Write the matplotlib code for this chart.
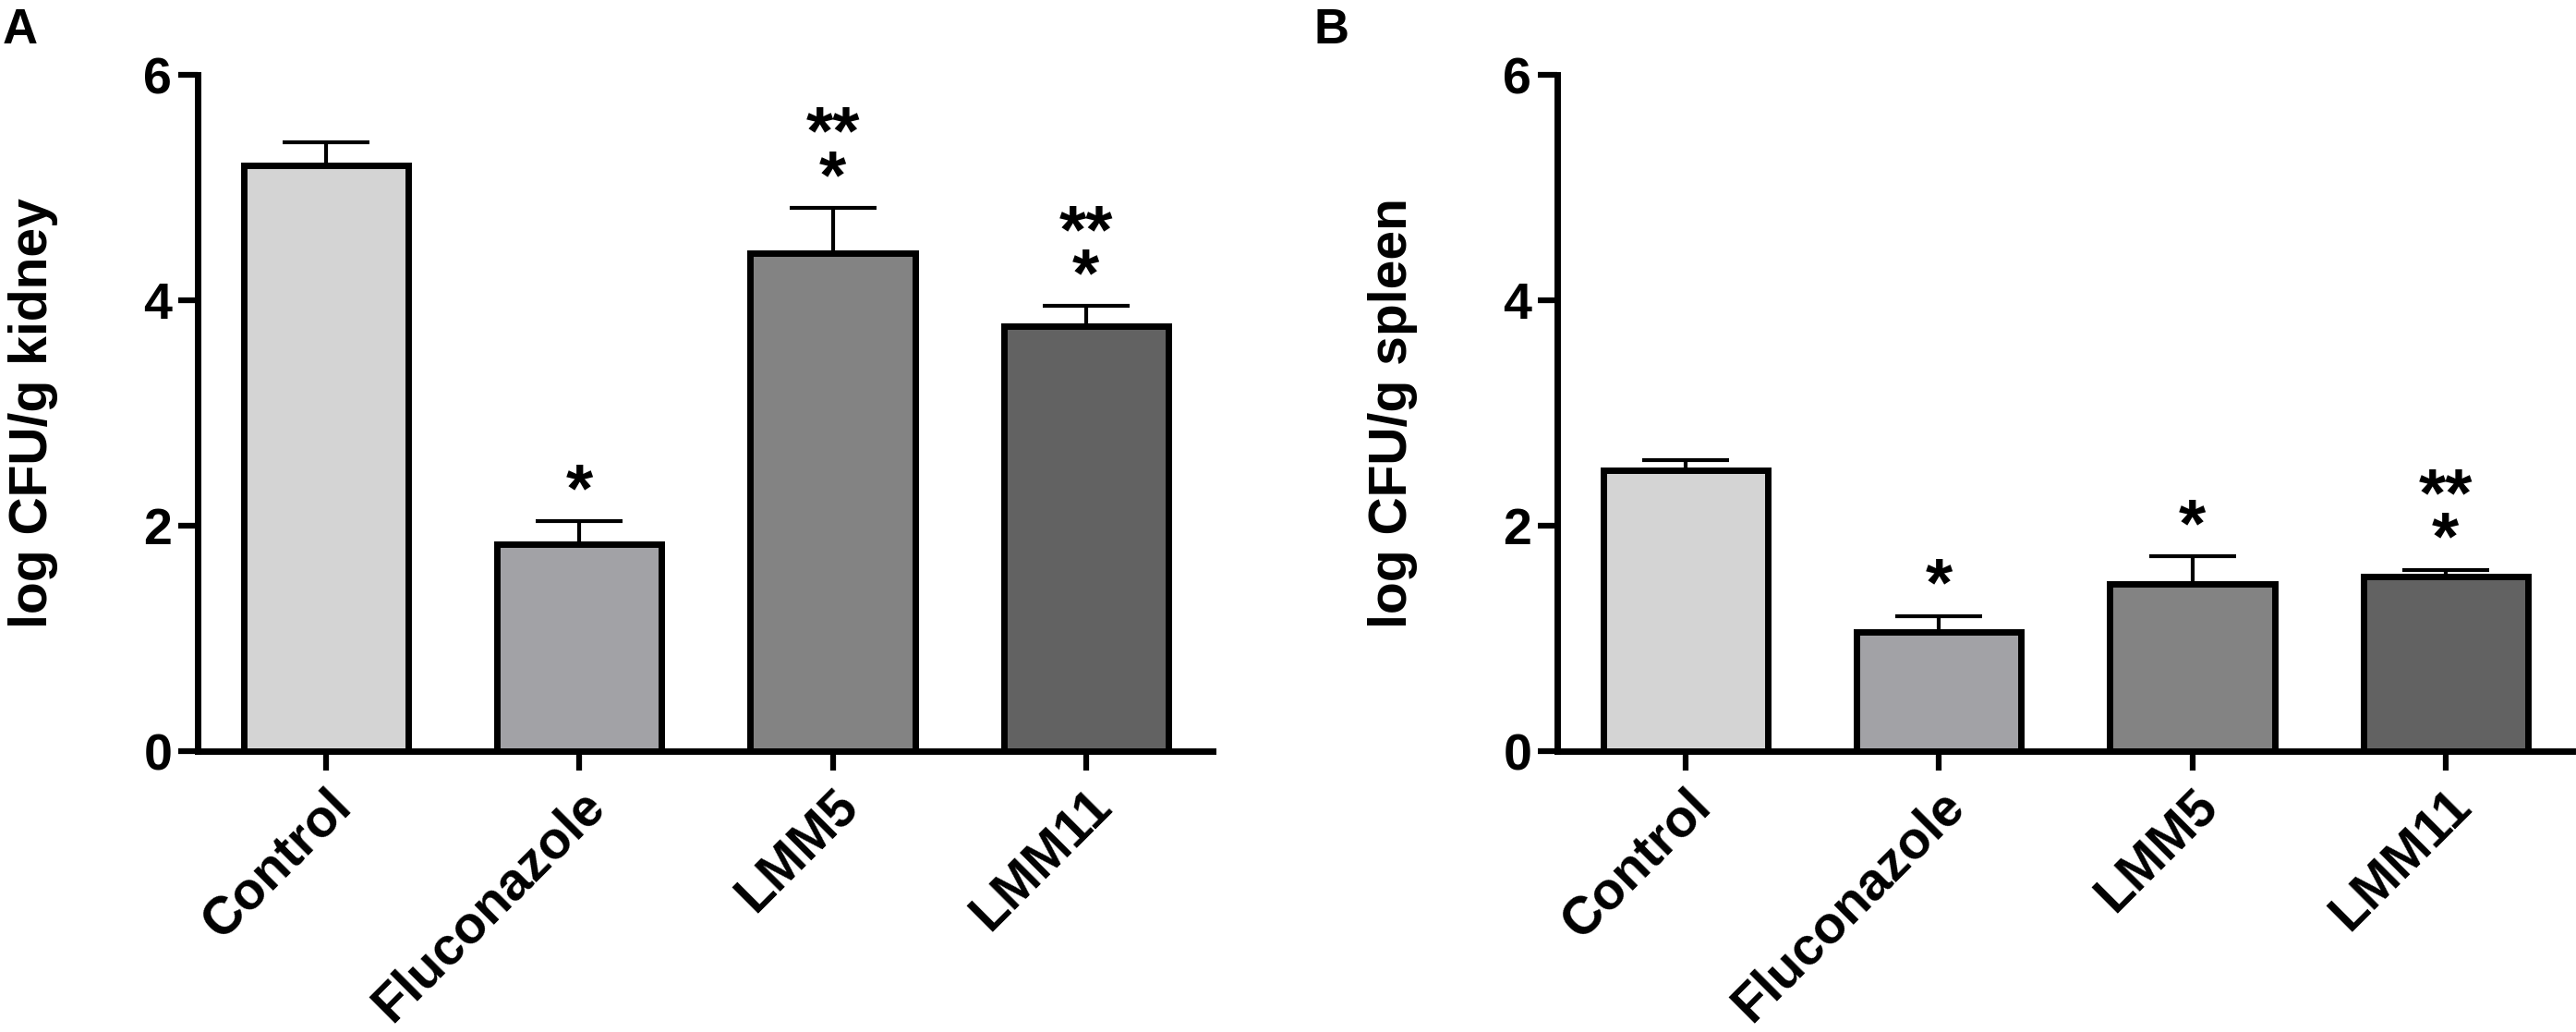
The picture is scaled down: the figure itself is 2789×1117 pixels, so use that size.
import matplotlib
matplotlib.use("Agg")
import matplotlib.pyplot as plt

# ---------------------------
# Data
# ---------------------------
groups = ["Control", "Fluconazole", "LMM5", "LMM11"]
bar_colors = ["#d4d4d4", "#a2a2a6", "#838383", "#626262"]

kidney_mean = [5.20, 1.84, 4.42, 3.77]
kidney_sem = [0.20, 0.20, 0.40, 0.18]
kidney_marks = ["", "*", "**\n*", "**\n*"]

spleen_mean = [2.49, 1.06, 1.48, 1.55]
spleen_sem = [0.09, 0.14, 0.25, 0.06]
spleen_marks = ["", "*", "*", "**\n*"]

yticks = [0, 2, 4, 6]

plt.rcParams["font.family"] = ["Liberation Sans", "DejaVu Sans"]
plt.rcParams["font.weight"] = "bold"

W, H = 2789, 1117
fig = plt.figure(figsize=(W / 100, H / 100), dpi=100)


def draw_panel(left_px, means, sems, marks, ylabel, letter, letter_x):
    ax = fig.add_axes([left_px / W, (H - 813) / H, 1099 / W, (813 - 81) / H])
    x = list(range(len(groups)))
    ax.errorbar(x, means, yerr=[[0] * len(sems), sems], fmt="none",
                ecolor="black", elinewidth=3, capsize=34, capthick=3, zorder=1)
    ax.bar(x, means, width=0.65, color=bar_colors, edgecolor="black",
           linewidth=5, zorder=2)

    # significance marks above the error bars (offset in points)
    for xi, m, s, t in zip(x, means, sems, marks):
        if t:
            ax.annotate(t, xy=(xi, m + s), xytext=(0, -3),
                        textcoords="offset points", ha="center", va="bottom",
                        multialignment="center", linespacing=0.6,
                        fontsize=54, fontweight="bold")

    ax.set_xlim(-0.507, 3.5)
    ax.set_ylim(0, 6)
    ax.set_yticks(yticks)
    ax.set_xticks(x)
    ax.set_xticklabels(groups, rotation=45, ha="right", va="top",
                       rotation_mode="anchor")
    ax.tick_params(axis="both", width=4.5, length=15)
    ax.tick_params(axis="y", pad=5, labelsize=40)
    ax.tick_params(axis="x", pad=8, labelsize=41)
    for lab in ax.get_xticklabels() + ax.get_yticklabels():
        lab.set_fontweight("bold")
    for side in ["top", "right"]:
        ax.spines[side].set_visible(False)
    for side in ["left", "bottom"]:
        ax.spines[side].set_linewidth(5)
    ax.set_ylabel(ylabel, fontsize=41, fontweight="bold")
    ax.yaxis.set_label_coords(-0.137, 0.5)
    fig.text(letter_x / W, 1 - 8 / H, letter, fontsize=38, fontweight="bold",
             ha="left", va="top")
    return ax


draw_panel(214, kidney_mean, kidney_sem, kidney_marks,
           "log CFU/g kidney", "A", 3)
draw_panel(1686, spleen_mean, spleen_sem, spleen_marks,
           "log CFU/g spleen", "B", 1422)

fig.savefig("out.png", dpi=100)
